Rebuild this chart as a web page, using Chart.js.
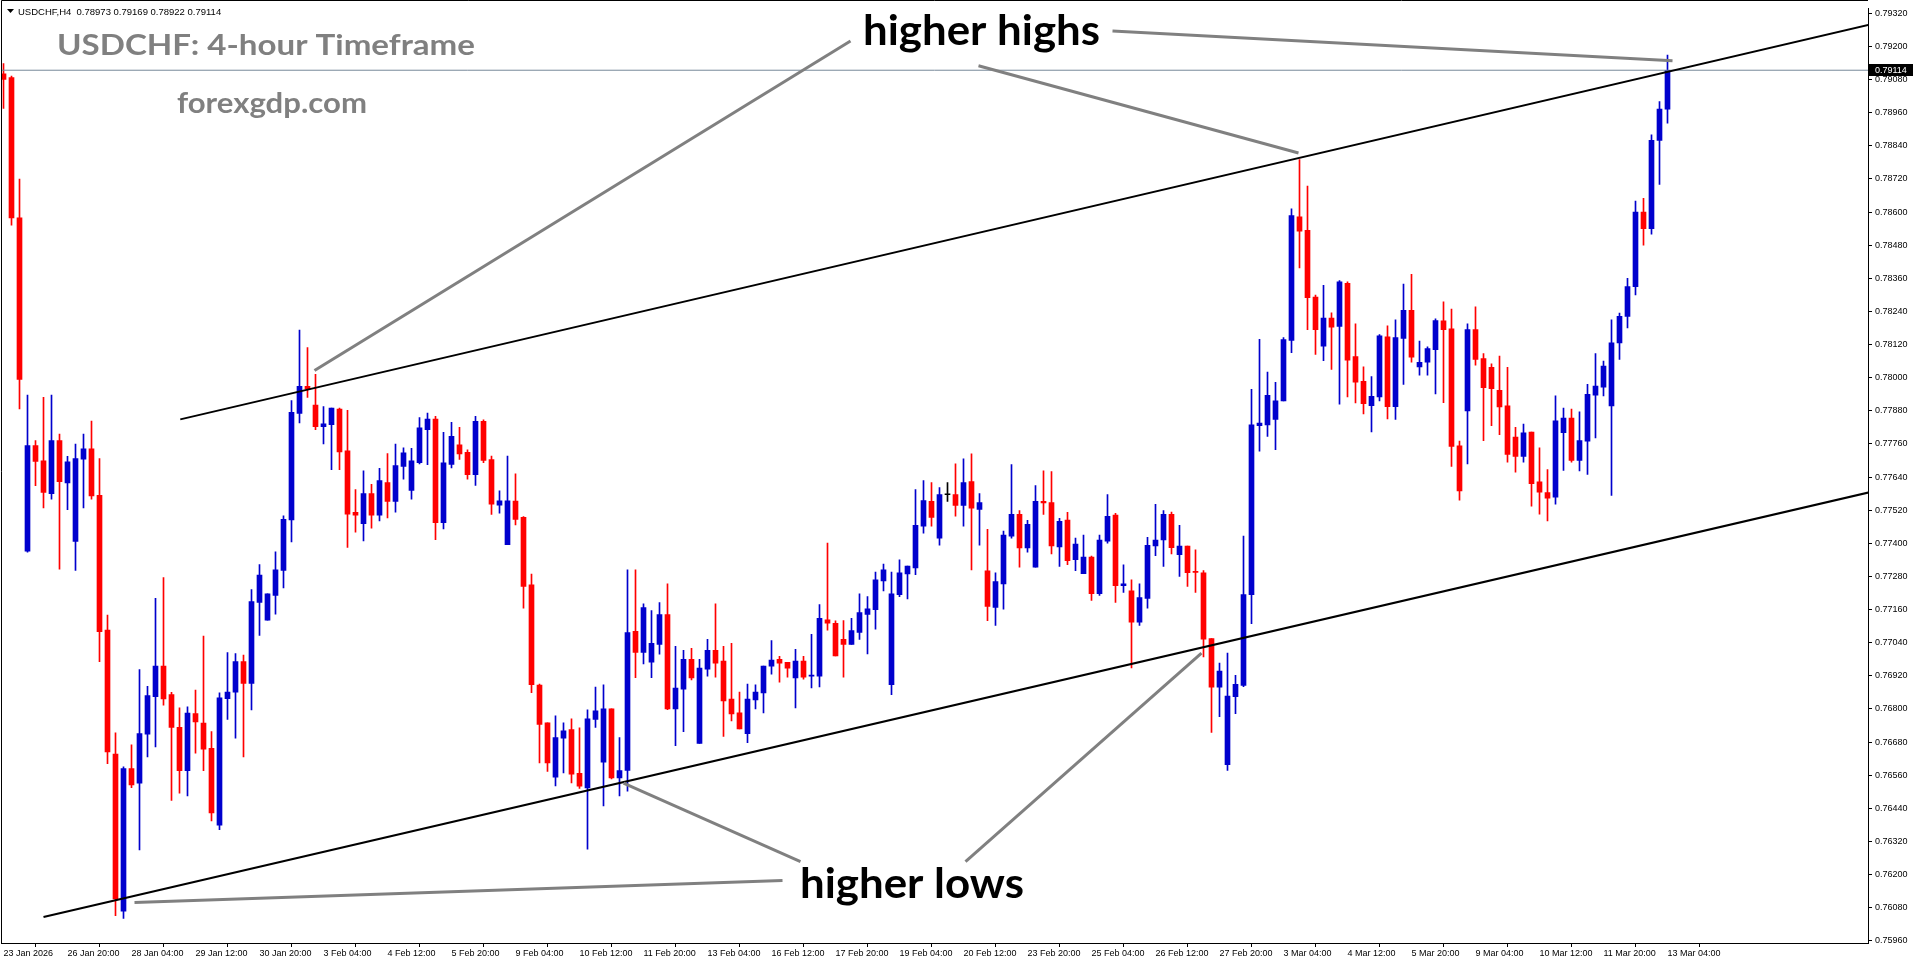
<!DOCTYPE html>
<html>
<head>
<meta charset="utf-8">
<script src="https://cdn.jsdelivr.net/npm/chart.js@4.4.1/dist/chart.umd.min.js"></script>
<style>
  html, body { margin: 0; padding: 0; background: #ffffff; }
  canvas { display: block; }
</style>
</head>
<body>
<canvas id="chart" width="1916" height="964"></canvas>
<script>
// USDCHF H4 candles, bar 0 = 23 Jan 12:00 ... bar 208 = 13 Mar 04:00
const openP = [
  0.79101,0.79087,0.78579,0.77372,0.77754,0.77699,0.77580,0.77772,0.77619,0.77407,
  0.77705,0.77742,0.77574,0.77086,0.76636,0.76067,0.76584,0.76531,0.76709,0.76844,
  0.76955,0.76852,0.76733,0.76576,0.76783,0.76749,0.76657,0.76379,0.76837,0.76861,
  0.76972,0.76892,0.77186,0.77122,0.77211,0.77302,0.77485,0.77871,0.77969,0.77901,
  0.77823,0.77830,0.77886,0.77735,0.77512,0.77471,0.77580,0.77502,0.77620,0.77552,
  0.77679,0.77592,0.77692,0.77812,0.77850,0.77475,0.77686,0.77757,0.77730,0.77649,
  0.77842,0.77703,0.77538,0.77395,0.77553,0.77494,0.77250,0.76886,0.76750,0.76553,
  0.76694,0.76725,0.76567,0.76514,0.76762,0.76607,0.76800,0.76550,0.76577,0.77081,
  0.77005,0.76969,0.77034,0.77142,0.76800,0.76872,0.76980,0.76675,0.76944,0.77012,
  0.76973,0.76836,0.76786,0.76710,0.76833,0.76858,0.76955,0.76980,0.76969,0.76912,
  0.76973,0.76919,0.76919,0.77123,0.77110,0.77052,0.77034,0.77077,0.77142,0.77160,
  0.77264,0.76888,0.77214,0.77289,0.77311,0.77462,0.77552,0.77419,0.77576,0.77577,
  0.77537,0.77624,0.77523,0.77300,0.77168,0.77253,0.77426,0.77505,0.77383,0.77314,
  0.77552,0.77548,0.77387,0.77484,0.77341,0.77290,0.77350,0.77218,0.77408,0.77502,
  0.77247,0.77228,0.77114,0.77200,0.77391,0.77412,0.77505,0.77359,0.77390,0.77297,
  0.77293,0.77055,0.76879,0.76598,0.76844,0.76885,0.77214,0.77826,0.77829,0.77849,
  0.77916,0.78135,0.78583,0.78534,0.78292,0.78114,0.78216,0.78186,0.78342,0.78077,
  0.77987,0.77899,0.77930,0.78148,0.77895,0.78142,0.78244,0.78039,0.78056,0.78102,
  0.78206,0.78177,0.77753,0.77880,0.78174,0.78069,0.78038,0.77954,0.77898,0.77785,
  0.77715,0.77803,0.77623,0.77584,0.77567,0.77801,0.77854,0.77700,0.77770,0.77937,
  0.77966,0.77898,0.78126,0.78222,0.78330,0.78600,0.78540,0.78860,0.78973
];
const highP = [
  0.79138,0.79093,0.78720,0.77937,0.77772,0.77929,0.77937,0.77796,0.77715,0.77760,
  0.77796,0.77843,0.77707,0.77140,0.76713,0.76590,0.76670,0.76943,0.76882,0.77201,
  0.77276,0.76860,0.76804,0.76808,0.76868,0.77064,0.76718,0.76858,0.77004,0.77001,
  0.76995,0.77232,0.77323,0.77217,0.77369,0.77500,0.77917,0.78173,0.78109,0.78012,
  0.77895,0.77890,0.77890,0.77882,0.77595,0.77663,0.77614,0.77672,0.77725,0.77760,
  0.77746,0.77744,0.77856,0.77872,0.77860,0.77802,0.77838,0.77820,0.77739,0.77860,
  0.77847,0.77716,0.77590,0.77716,0.77652,0.77497,0.77289,0.76890,0.76750,0.76775,
  0.76750,0.76764,0.76732,0.76797,0.76879,0.76887,0.76800,0.76696,0.77304,0.77304,
  0.77181,0.77156,0.77185,0.77253,0.77027,0.77012,0.77020,0.76980,0.77052,0.77181,
  0.77027,0.77038,0.76861,0.76890,0.76887,0.76955,0.77048,0.76991,0.76969,0.77016,
  0.76991,0.77070,0.77178,0.77401,0.77119,0.77120,0.77128,0.77217,0.77207,0.77296,
  0.77325,0.77296,0.77340,0.77318,0.77595,0.77627,0.77620,0.77602,0.77620,0.77688,
  0.77706,0.77724,0.77580,0.77451,0.77293,0.77444,0.77685,0.77519,0.77483,0.77609,
  0.77663,0.77660,0.77491,0.77512,0.77419,0.77430,0.77354,0.77430,0.77577,0.77509,
  0.77322,0.77268,0.77253,0.77422,0.77541,0.77519,0.77513,0.77465,0.77390,0.77376,
  0.77301,0.77055,0.76966,0.77002,0.76922,0.77426,0.77958,0.78139,0.78020,0.77983,
  0.78145,0.78612,0.78790,0.78694,0.78299,0.78335,0.78235,0.78352,0.78347,0.78195,
  0.78039,0.78004,0.78156,0.78188,0.78210,0.78339,0.78375,0.78133,0.78112,0.78213,
  0.78275,0.78249,0.77770,0.78195,0.78257,0.78087,0.78050,0.78078,0.78038,0.77820,
  0.77832,0.77803,0.77746,0.77667,0.77934,0.77890,0.77886,0.77876,0.77976,0.78087,
  0.78060,0.78210,0.78234,0.78360,0.78640,0.78650,0.78880,0.79000,0.79169
];
const lowP = [
  0.78976,0.78553,0.77887,0.77368,0.77609,0.77528,0.77560,0.77306,0.77522,0.77302,
  0.77528,0.77560,0.76971,0.76602,0.76051,0.76041,0.76515,0.76289,0.76626,0.76662,
  0.76814,0.76469,0.76495,0.76485,0.76640,0.76576,0.76394,0.76363,0.76762,0.76694,
  0.76626,0.76796,0.77066,0.77122,0.77143,0.77238,0.77405,0.77836,0.77929,0.77812,
  0.77760,0.77667,0.77667,0.77385,0.77440,0.77409,0.77455,0.77481,0.77492,0.77513,
  0.77632,0.77560,0.77688,0.77685,0.77413,0.77452,0.77673,0.77704,0.77632,0.77610,
  0.77692,0.77505,0.77509,0.77395,0.77467,0.77165,0.76859,0.76604,0.76574,0.76521,
  0.76568,0.76532,0.76512,0.76292,0.76733,0.76449,0.76546,0.76485,0.76502,0.76913,
  0.76963,0.76913,0.76998,0.76797,0.76667,0.76718,0.76905,0.76675,0.76919,0.76915,
  0.76700,0.76757,0.76728,0.76678,0.76800,0.76786,0.76926,0.76897,0.76915,0.76804,
  0.76908,0.76876,0.76880,0.77085,0.76992,0.76915,0.77034,0.77052,0.76999,0.77089,
  0.77228,0.76852,0.77207,0.77199,0.77286,0.77437,0.77462,0.77393,0.77552,0.77498,
  0.77462,0.77304,0.77393,0.77120,0.77103,0.77161,0.77419,0.77314,0.77368,0.77314,
  0.77505,0.77362,0.77316,0.77323,0.77301,0.77290,0.77193,0.77211,0.77401,0.77186,
  0.77222,0.76949,0.77103,0.77165,0.77355,0.77316,0.77362,0.77280,0.77244,0.77222,
  0.76988,0.76715,0.76772,0.76577,0.76783,0.76881,0.77109,0.77734,0.77787,0.77739,
  0.77916,0.78091,0.78398,0.78174,0.78084,0.78062,0.78030,0.77904,0.77930,0.77909,
  0.77869,0.77804,0.77916,0.77851,0.77849,0.77976,0.78056,0.78009,0.78009,0.77941,
  0.77910,0.77679,0.77556,0.77688,0.78045,0.77772,0.77826,0.77794,0.77694,0.77658,
  0.77694,0.77535,0.77506,0.77481,0.77542,0.77664,0.77694,0.77662,0.77650,0.77782,
  0.77934,0.77574,0.78066,0.78180,0.78300,0.78480,0.78520,0.78700,0.78922
];
const closeP = [
  0.79081,0.78579,0.77994,0.77754,0.77697,0.77584,0.77772,0.77623,0.77695,0.77707,
  0.77742,0.77572,0.77080,0.76644,0.76112,0.76584,0.76525,0.76711,0.76848,0.76955,
  0.76836,0.76733,0.76576,0.76785,0.76753,0.76654,0.76423,0.76840,0.76861,0.76972,
  0.76892,0.77189,0.77285,0.77217,0.77304,0.77487,0.77875,0.77969,0.77959,0.77823,
  0.77833,0.77890,0.77731,0.77506,0.77502,0.77580,0.77502,0.77627,0.77552,0.77682,
  0.77728,0.77699,0.77818,0.77850,0.77475,0.77692,0.77788,0.77724,0.77649,0.77842,
  0.77700,0.77542,0.77554,0.77554,0.77487,0.77244,0.76888,0.76744,0.76604,0.76696,
  0.76721,0.76564,0.76520,0.76764,0.76793,0.76800,0.76550,0.76577,0.77077,0.77005,
  0.77167,0.77038,0.77142,0.76800,0.76876,0.76980,0.76912,0.76948,0.77012,0.76966,
  0.76829,0.76782,0.76728,0.76836,0.76861,0.76955,0.76977,0.76966,0.76948,0.76973,
  0.76915,0.76923,0.77128,0.77111,0.76992,0.77034,0.77084,0.77149,0.77163,0.77268,
  0.77304,0.77217,0.77293,0.77318,0.77465,0.77555,0.77494,0.77577,0.77576,0.77537,
  0.77620,0.77527,0.77548,0.77171,0.77261,0.77430,0.77505,0.77383,0.77469,0.77552,
  0.77546,0.77391,0.77480,0.77337,0.77397,0.77350,0.77218,0.77412,0.77498,0.77247,
  0.77253,0.77114,0.77203,0.77393,0.77412,0.77505,0.77384,0.77390,0.77294,0.77295,
  0.77053,0.76879,0.76937,0.76847,0.76889,0.77214,0.77829,0.77836,0.77936,0.77916,
  0.78138,0.78587,0.78531,0.78290,0.78174,0.78216,0.78183,0.78347,0.78064,0.77984,
  0.77906,0.77933,0.78152,0.77895,0.78145,0.78244,0.78074,0.78056,0.78106,0.78207,
  0.78174,0.77751,0.77590,0.78174,0.78066,0.77964,0.77960,0.77894,0.77722,0.77715,
  0.77800,0.77616,0.77585,0.77564,0.77844,0.77854,0.77700,0.77772,0.77940,0.77970,
  0.78042,0.78126,0.78222,0.78330,0.78600,0.78540,0.78860,0.78973,0.79114
];

const dateTickBars = [0,8,16,24,32,40,48,56,64,72,80,88,96,104,112,120,128,136,144,152,160,168,176,184,192,200,208];
const dateTickLabels = [
  '23 Jan 2026','26 Jan 20:00','28 Jan 04:00','29 Jan 12:00','30 Jan 20:00','3 Feb 04:00',
  '4 Feb 12:00','5 Feb 20:00','9 Feb 04:00','10 Feb 12:00','11 Feb 20:00','13 Feb 04:00',
  '16 Feb 12:00','17 Feb 20:00','19 Feb 04:00','20 Feb 12:00','23 Feb 20:00','25 Feb 04:00',
  '26 Feb 12:00','27 Feb 20:00','3 Mar 04:00','4 Mar 12:00','5 Mar 20:00','9 Mar 04:00',
  '10 Mar 12:00','11 Mar 20:00','13 Mar 04:00'
];
const priceTicks = [
  0.75960,0.76080,0.76200,0.76320,0.76440,0.76560,0.76680,0.76800,0.76920,0.77040,
  0.77160,0.77280,0.77400,0.77520,0.77640,0.77760,0.77880,0.78000,0.78120,0.78240,
  0.78360,0.78480,0.78600,0.78720,0.78840,0.78960,0.79080,0.79200,0.79320
];
const lastPrice = 0.79114;

// drawn lines, [bar, price] end points
const upperTrend = [[22.1, 0.77849], [233.1, 0.79278]];
const lowerTrend = [[5.0, 0.76046], [233.1, 0.77584]];
const highPointers = [
  [[38.875, 0.78026], [105.875, 0.79220]],
  [[121.875, 0.79130], [161.875, 0.78814]],
  [[138.625, 0.79256], [208.625, 0.79148]]
];
const lowPointers = [
  [[97.375, 0.76178], [16.375, 0.76099]],
  [[99.625, 0.76247], [77.5, 0.76531]],
  [[120.25, 0.76247], [149.75, 0.77002]]
];

const X_MIN = -0.3125;
const X_MAX = X_MIN + 1867 / 8;
const Y_MIN = 0.75952;
const Y_MAX = 0.79338;

const BULL = '#0000cd';
const BEAR = '#ff0000';
const candleColor = openP.map((o, i) => closeP[i] > o ? BULL : (closeP[i] < o ? BEAR : '#000000'));

function lineSet(pts, color, width) {
  return {
    type: 'line',
    data: pts.map(p => ({ x: p[0], y: p[1] })),
    borderColor: color,
    borderWidth: width,
    pointRadius: 0,
    fill: false,
    tension: 0
  };
}

const axisFont = { family: "'Liberation Sans', Arial, sans-serif", size: 9 };

// fit text into a measured box (the reference uses a font we do not have)
function drawFitted(ctx, text, x, baseline, size, width, color) {
  ctx.save();
  ctx.font = 'bold ' + size + "px Lato, 'Open Sans', sans-serif";
  ctx.fillStyle = color;
  ctx.textBaseline = 'alphabetic';
  ctx.textAlign = 'left';
  const w = ctx.measureText(text).width;
  ctx.translate(x, baseline);
  ctx.scale(width / w, 1);
  ctx.fillText(text, 0, 0);
  ctx.restore();
}

const decorPlugin = {
  id: 'decor',
  afterDraw(chart) {
    const ctx = chart.ctx;
    const a = chart.chartArea;
    const y = chart.scales.y;
    ctx.save();
    // frame
    ctx.strokeStyle = '#000';
    ctx.lineWidth = 1;
    ctx.beginPath();
    ctx.moveTo(1.5, a.bottom);
    ctx.lineTo(1.5, 0.5);
    ctx.lineTo(a.right, 0.5);
    ctx.stroke();

    // current price box on the axis
    const py = Math.round(y.getPixelForValue(lastPrice));
    ctx.fillStyle = '#000';
    ctx.fillRect(a.right + 1, py - 6, 44, 12);
    ctx.fillStyle = '#fff';
    ctx.font = "9px 'Liberation Sans', Arial, sans-serif";
    ctx.textBaseline = 'middle';
    ctx.textAlign = 'left';
    ctx.fillText(lastPrice.toFixed(5), a.right + 7, py + 0.5);

    // header line
    ctx.fillStyle = '#000';
    ctx.beginPath();
    ctx.moveTo(7, 9);
    ctx.lineTo(14, 9);
    ctx.lineTo(10.5, 13);
    ctx.closePath();
    ctx.fill();
    ctx.font = "9.5px 'Liberation Sans', Arial, sans-serif";
    ctx.textBaseline = 'alphabetic';
    ctx.fillText('USDCHF,H4  ' + [openP[208], highP[208], lowP[208], closeP[208]].map(v => v.toFixed(5)).join(' '), 18, 15);
    ctx.restore();

    drawFitted(ctx, 'USDCHF: 4-hour Timeframe', 57, 55, 29, 418, '#808080');
    drawFitted(ctx, 'forexgdp.com', 177, 113, 29, 190, '#808080');
    drawFitted(ctx, 'higher highs', 863, 45, 42, 237, '#000000');
    drawFitted(ctx, 'higher lows', 800, 898, 42, 224, '#000000');
  }
};

const datasets = [];
highPointers.forEach(p => datasets.push(lineSet(p, '#808080', 3)));
lowPointers.forEach(p => datasets.push(lineSet(p, '#808080', 3)));
datasets.push(lineSet(upperTrend, '#000000', 2));
datasets.push(lineSet(lowerTrend, '#000000', 2));
datasets.push(lineSet([[X_MIN, lastPrice], [X_MAX, lastPrice]], '#778899', 1));
datasets.push({
  type: 'bar',
  data: openP.map((o, i) => ({ x: i, y: [o, closeP[i]] })),
  backgroundColor: candleColor,
  borderWidth: 0,
  barThickness: 5,
  minBarLength: 1,
  grouped: false
});
datasets.push({
  type: 'bar',
  data: openP.map((o, i) => ({ x: i, y: [lowP[i], highP[i]] })),
  backgroundColor: candleColor,
  borderWidth: 0,
  barThickness: 1,
  grouped: false
});

new Chart(document.getElementById('chart').getContext('2d'), {
  type: 'bar',
  data: { datasets: datasets },
  options: {
    responsive: false,
    animation: false,
    devicePixelRatio: 1,
    layout: { padding: { left: 1, top: 1, right: 0, bottom: 0 } },
    plugins: { legend: { display: false }, tooltip: { enabled: false } },
    scales: {
      x: {
        type: 'linear',
        min: X_MIN,
        max: X_MAX,
        offset: false,
        grid: { drawOnChartArea: false, drawTicks: true, tickLength: 4, tickColor: '#000' },
        border: { display: true, color: '#000', width: 1 },
        ticks: {
          autoSkip: false,
          maxRotation: 0,
          align: 'start',
          padding: 1,
          color: '#000',
          font: axisFont,
          callback: (v, i) => dateTickLabels[i]
        },
        afterBuildTicks: s => { s.ticks = dateTickBars.map(v => ({ value: v })); },
        afterFit: s => { s.height = 21; }
      },
      y: {
        position: 'right',
        min: Y_MIN,
        max: Y_MAX,
        grid: { drawOnChartArea: false, drawTicks: true, tickLength: 4, tickColor: '#000' },
        border: { display: true, color: '#000', width: 1 },
        ticks: {
          padding: 3,
          color: '#000',
          font: axisFont,
          callback: v => Number(v).toFixed(5)
        },
        afterBuildTicks: s => { s.ticks = priceTicks.map(v => ({ value: v })); },
        afterFit: s => { s.width = 48; }
      }
    }
  },
  plugins: [decorPlugin]
});
</script>
</body>
</html>
